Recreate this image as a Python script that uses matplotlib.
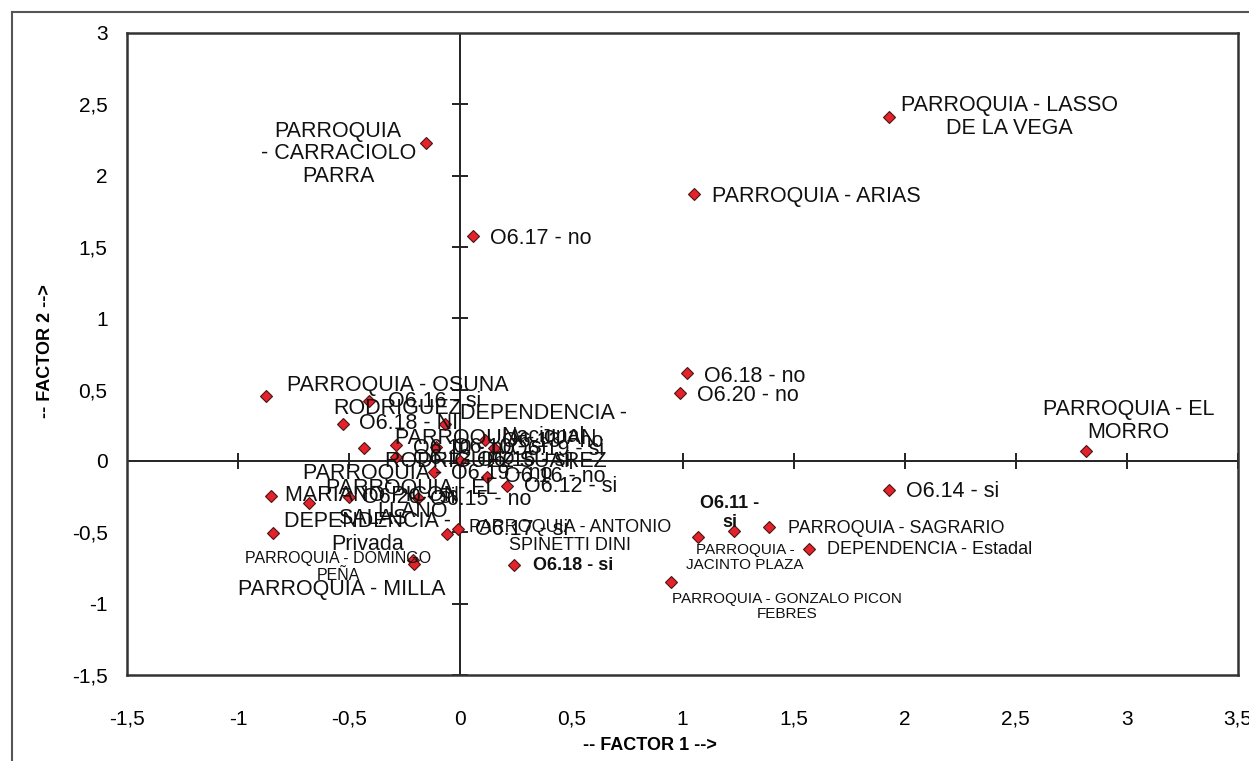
import matplotlib
matplotlib.use("Agg")
import matplotlib.pyplot as plt
from matplotlib.lines import Line2D

plt.rcParams['font.family'] = ['Liberation Sans', 'DejaVu Sans']

# Coordenadas factoriales (FACTOR 1, FACTOR 2)
nombres = [
    "PARROQUIA - LASSO\nDE LA VEGA",
    "PARROQUIA\n- CARRACIOLO\nPARRA",
    "PARROQUIA - ARIAS",
    "O6.17 - no",
    "PARROQUIA - OSUNA\nRODRIGUEZ",
    "O6.16 - si",
    "O6.18 - NI",
    "DEPENDENCIA -\nNacional",
    "PARROQUIA - JUAN\nRODRIGUEZ SUAREZ",
    "O6.10 - no",
    "O6.10 - si",
    "O6.13 - no",
    "O6.19 - si",
    "O6.12 - no",
    "O6.15 - si",
    "O6.19 - no",
    "O6.16 - no",
    "O6.12 - si",
    "PARROQUIA -\nMARIANO PICON\nSALAS",
    "PARROQUIA - EL\nLLANO",
    "O6.20 - si",
    "O6.15 - no",
    "DEPENDENCIA -\nPrivada",
    "PARROQUIA - ANTONIO\nSPINETTI DINI",
    "O6.17 - si",
    "PARROQUIA - DOMINGO\nPEÑA",
    "PARROQUIA - MILLA",
    "O6.18 - si",
    "O6.11 -\nsi",
    "PARROQUIA -\nJACINTO PLAZA",
    "PARROQUIA - SAGRARIO",
    "DEPENDENCIA - Estadal",
    "PARROQUIA - GONZALO PICON\nFEBRES",
    "O6.14 - si",
    "O6.18 - no",
    "O6.20 - no",
    "PARROQUIA - EL\nMORRO",
]
f1 = [1.93, -0.153, 1.05, 0.058, -0.876, -0.41, -0.53, -0.067, -0.435, -0.29,
      -0.11, 0.11, 0.15, -0.29, 0.0, -0.12, 0.12, 0.21, -0.85, -0.68,
      -0.50, -0.19, -0.844, -0.058, -0.009, -0.211, -0.207, 0.24, 1.23, 1.07,
      1.39, 1.57, 0.95, 1.93, 1.02, 0.99, 2.815]
f2 = [2.41, 2.23, 1.87, 1.58, 0.455, 0.42, 0.26, 0.26, 0.09, 0.11,
      0.10, 0.15, 0.09, 0.03, 0.0, -0.08, -0.11, -0.175, -0.245, -0.295,
      -0.25, -0.26, -0.505, -0.51, -0.477, -0.694, -0.722, -0.73, -0.49, -0.53,
      -0.46, -0.62, -0.85, -0.20, 0.62, 0.48, 0.07]

ticks_x = [-1.5, -1, -0.5, 0, 0.5, 1, 1.5, 2, 2.5, 3, 3.5]
ticks_y = [-1.5, -1, -0.5, 0, 0.5, 1, 1.5, 2, 2.5, 3]

# posicion de cada etiqueta respecto a su punto (pixeles) y estilo
despl = [(120, 0, 'center'), (-88, -11, 'center'), (18, -2, 'left'), (17, -3, 'left'),
         (132, -1, 'center'), (19, 0, 'left'), (16, 0, 'left'), (98, -1, 'center'),
         (132, -2, 'center'), (17, -3, 'left'), (17, -1, 'left'), (17, -2, 'left'),
         (17, -1, 'left'), (17, -2, 'left'), (17, 0, 'left'), (17, -1, 'left'),
         (17, 0, 'left'), (17, -1, 'left'), (101, 0, 'center'), (103, 3, 'center'),
         (13, -1, 'left'), (12, -1, 'left'), (95, 0, 'center'), (123, -3, 'center'),
         (17, 0, 'left'), (-75, -7, 'center'), (-73, -25, 'center'), (19, 0, 'left'),
         (-4, 18, 'center'), (47, -21, 'center'), (19, -2, 'left'), (18, 0, 'left'),
         (116, -24, 'center'), (17, -2, 'left'), (17, -4, 'left'), (17, -3, 'left'),
         (43, 30, 'center')]
tam = [15.5, 15.5, 15.5, 15.5, 15.5, 15.5, 15.5, 15.5, 15.5, 15.5,
       15.5, 15.5, 15.5, 15.5, 15.5, 15.5, 15.5, 15.5, 15.5, 15.5,
       15.5, 15.5, 15.5, 13, 15.5, 11.5, 15.5, 13, 13, 11,
       13, 13, 11, 15.5, 15.5, 15.5, 15.5]
negrita = ["O6.18 - si", "O6.11 -\nsi"]

fig = plt.figure(figsize=(12.49, 7.61), dpi=100)
ax = fig.add_axes([127 / 1249, 1 - 675 / 761, (1238 - 127) / 1249, (675 - 33) / 761])

# marco exterior
fig.add_artist(Line2D([12 / 1249, 12 / 1249], [0, 1 - 12 / 761], transform=fig.transFigure,
                      color='#555555', lw=1.5))
fig.add_artist(Line2D([12 / 1249, 1], [1 - 12 / 761, 1 - 12 / 761], transform=fig.transFigure,
                      color='#555555', lw=1.5))

ax.set_xlim(-1.5, 3.5)
ax.set_ylim(-1.5, 3)
for s in ax.spines.values():
    s.set_linewidth(1.8)
    s.set_color('#333333')

# ejes por el origen con sus marcas
ax.axhline(0, color='#222222', lw=1.4, zorder=1)
ax.axvline(0, color='#222222', lw=1.4, zorder=1)
tx = [t for t in ticks_x if t != 0]
ty = [t for t in ticks_y if t != 0]
ax.plot(tx, [0] * len(tx), ls='none', marker='|', ms=11, mew=1.4, color='#222222', zorder=1)
ax.plot([0] * len(ty), ty, ls='none', marker='_', ms=11, mew=1.4, color='#222222', zorder=1)

ax.set_xticks(ticks_x)
ax.set_yticks(ticks_y)
ax.set_xticklabels([str(t).replace('.0', '').replace('.', ',') for t in ticks_x])
ax.set_yticklabels([str(t).replace('.0', '').replace('.', ',') for t in ticks_y])
ax.tick_params(axis='x', length=0, pad=25, labelsize=15)
ax.tick_params(axis='y', length=0, pad=14, labelsize=15)

ax.plot(f1, f2, ls='none', marker='D', ms=6.5, mfc='#e3222b', mec='#4a1515', mew=0.8, zorder=3)

for i in range(len(nombres)):
    dx, dy, ha = despl[i]
    peso = 'bold' if nombres[i] in negrita else 'normal'
    ax.annotate(nombres[i], (f1[i], f2[i]), xytext=(dx, dy), textcoords='offset pixels',
                ha=ha, va='center', multialignment='center', fontsize=tam[i],
                fontweight=peso, linespacing=1.1, color='#111111', zorder=4)

fig.text(650 / 1249, 1 - 745 / 761, "-- FACTOR 1 -->", ha='center', va='center',
         fontsize=13, fontweight='bold')
fig.text(45 / 1249, 1 - 351 / 761, "-- FACTOR 2 -->", ha='center', va='center',
         rotation=90, fontsize=13, fontweight='bold')

fig.savefig("out.png", dpi=100)
